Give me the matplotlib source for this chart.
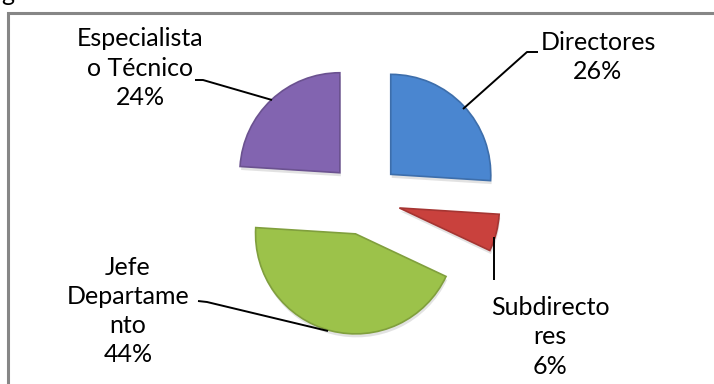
import matplotlib
matplotlib.use("Agg")
import matplotlib.pyplot as plt
from matplotlib.patches import Rectangle

categories = ["Directores", "Subdirectores", "Jefe Departamento", "Especialista o Técnico"]
values = [26, 6, 44, 24]
label_texts = ["Directores\n26%", "Subdirecto\nres\n6%", "Jefe\nDepartame\nnto\n44%",
               "Especialista\no Técnico\n24%"]
colors = ["#4a86d0", "#c9413d", "#9cc24a", "#8264b0"]
explode = [0.36, 0.36, 0.36, 0.36]

W, H = 714, 384
fig = plt.figure(figsize=(W / 100, H / 100), dpi=100)
ax = fig.add_axes([0, 0, 1, 1])

# centre of pie in pixels, radius 100 px = 1 unit
cx_px, cy_px = 364.5, 199

def px(x, y):
    return ((x - cx_px) / 100, (cy_px - y) / 100)

# soft shadow
shadow, _ = ax.pie(values, colors=["#d0d0d0"] * 4, explode=explode, startangle=90,
                   counterclock=False, radius=1.0, center=(0.01, -0.035),
                   wedgeprops=dict(edgecolor="none", alpha=0.6))
wedges, _ = ax.pie(values, colors=colors, explode=explode, startangle=90,
                   counterclock=False, radius=1.0,
                   wedgeprops=dict(edgecolor="none"))
for w, c in zip(wedges, colors):
    w.set_edgecolor(matplotlib.colors.to_hex(
        [v * 0.82 for v in matplotlib.colors.to_rgb(c)]))
    w.set_linewidth(1.2)

ax.set_xlim(-cx_px / 100, (W - cx_px) / 100)
ax.set_ylim(-(H - cy_px) / 100, cy_px / 100)
ax.set_aspect("auto")
ax.axis("off")

# frame
fig.patches.append(Rectangle((8 / W, -0.1), 1.2, (H - 13) / H + 0.1,
                             transform=fig.transFigure, fill=False,
                             edgecolor="#868686", linewidth=2.2))
fig.text(1 / W, 1 + 18 / H, "g", fontsize=18, family="Lato", va="top",
         ha="left", color="black")

font = dict(family="Lato", fontsize=18, ha="center", va="center",
            linespacing=1.32, color="black")
label_pos = [(598, 57), (550, 337), (128, 311), (140, 68)]
for t, (x, y) in zip(label_texts, label_pos):
    ax.text(*px(x, y), t, **font)

leaders = [
    [(538, 52), (527, 52), (463, 109)],
    [(494, 280), (494, 237)],
    [(198, 301), (207, 302), (328, 331)],
    [(195, 80), (203, 80), (272, 100)],
]
for seg in leaders:
    xs, ys = zip(*[px(x, y) for x, y in seg])
    ax.plot(xs, ys, color="black", lw=1.4, solid_capstyle="butt")

fig.savefig("out.png", dpi=100)
